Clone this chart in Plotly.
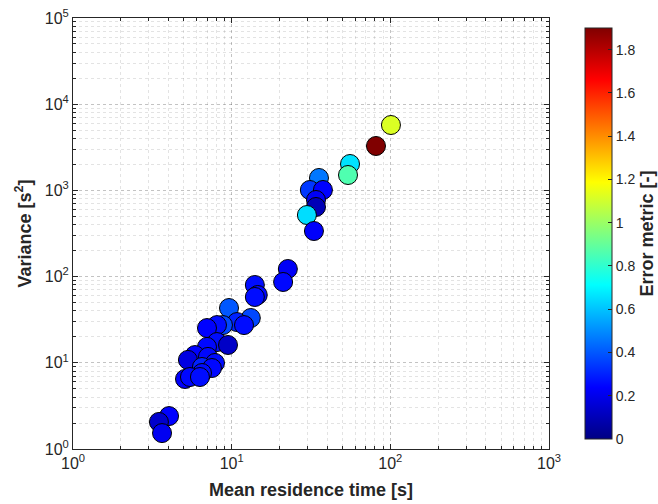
import plotly.graph_objects as go

mean_time = [100.9, 81.2, 55.7, 54.1, 35.5, 31.1, 37.6, 34.0, 34.0, 29.8,
             33.0, 22.6, 21.1, 14.0, 14.6, 14.0, 9.62, 13.2, 10.8, 11.96,
             8.81, 8.08, 6.99, 8.08, 9.48, 6.99, 5.87, 5.30, 7.09, 7.85,
             6.50, 7.51, 6.50, 5.08, 5.46, 6.31, 4.03, 3.48, 3.64]
variance = [5737, 3275, 2025, 1509, 1393, 1011, 1011, 774, 642, 518,
            338, 122.5, 86.6, 79.9, 61.2, 58.0, 43.2, 33.1, 29.7, 27.4,
            27.4, 27.4, 25.3, 17.4, 16.1, 15.3, 12.3, 10.8, 11.7, 9.95,
            8.94, 8.70, 7.61, 6.49, 6.84, 6.84, 2.41, 2.06, 1.53]
error_metric = [1.12, 1.9, 0.66, 0.86, 0.46, 0.34, 0.24, 0.22, 0.10, 0.65,
                0.23, 0.22, 0.25, 0.26, 0.25, 0.26, 0.40, 0.37, 0.30, 0.26,
                0.37, 0.26, 0.24, 0.26, 0.13, 0.25, 0.24, 0.18, 0.25, 0.26,
                0.30, 0.25, 0.26, 0.23, 0.25, 0.26, 0.24, 0.14, 0.21]

x_tickvals = [1, 10, 100, 1000]
x_ticktext = ["10<sup>0</sup>", "10<sup>1</sup>", "10<sup>2</sup>", "10<sup>3</sup>"]
y_tickvals = [1, 10, 100, 1000, 10000, 100000]
y_ticktext = ["10<sup>0</sup>", "10<sup>1</sup>", "10<sup>2</sup>", "10<sup>3</sup>",
              "10<sup>4</sup>", "10<sup>5</sup>"]
cb_tickvals = [0, 0.2, 0.4, 0.6, 0.8, 1.0, 1.2, 1.4, 1.6, 1.8]
cb_ticktext = ["0", "0.2", "0.4", "0.6", "0.8", "1", "1.2", "1.4", "1.6", "1.8"]

jet = [[0.0, "rgb(0,0,131)"], [0.125, "rgb(0,0,255)"], [0.375, "rgb(0,255,255)"],
       [0.625, "rgb(255,255,0)"], [0.875, "rgb(255,0,0)"], [1.0, "rgb(128,0,0)"]]

minor_x = [m * 10 ** k for k in range(0, 3) for m in range(2, 10)]
minor_y = [m * 10 ** k for k in range(0, 5) for m in range(2, 10)]

FONT = "Liberation Sans, Arial"
INK = "#262626"

fig = go.Figure()
fig.add_trace(go.Scatter(
    x=mean_time, y=variance, mode="markers",
    marker=dict(size=19, color=error_metric, colorscale=jet, cmin=0, cmax=1.9,
                line=dict(color="black", width=1), opacity=1,
                colorbar=dict(
                    x=1.054, xanchor="left", xref="paper", y=0.5, yanchor="middle",
                    len=1, lenmode="fraction", thickness=27, thicknessmode="pixels",
                    outlinecolor=INK, outlinewidth=1,
                    tickmode="array", tickvals=cb_tickvals, ticktext=cb_ticktext,
                    ticks="inside", ticklen=4, tickcolor=INK,
                    tickfont=dict(family=FONT, size=14, color=INK),
                    title=dict(text="<b>Error metric [-]</b>", side="right",
                               font=dict(family=FONT, size=18, color=INK)),
                )),
    showlegend=False,
))

axis_common = dict(
    type="log", showline=True, linecolor=INK, linewidth=1, mirror="ticks",
    ticks="inside", ticklen=5, tickcolor=INK,
    showgrid=True, gridcolor="rgba(38,38,38,0.28)", griddash="dot", gridwidth=1,
    tickfont=dict(family=FONT, size=16, color=INK),
    zeroline=False, tickmode="array",
)
minor_common = dict(tickmode="array", ticks="inside", ticklen=3, tickcolor=INK,
                    showgrid=True, gridcolor="rgba(38,38,38,0.13)", griddash="dot")

fig.update_xaxes(**axis_common, range=[0, 3], tickvals=x_tickvals, ticktext=x_ticktext,
                 minor=dict(**minor_common, tickvals=minor_x),
                 title=dict(text="<b>Mean residence time [s]</b>", standoff=12,
                            font=dict(family=FONT, size=18, color=INK)))
fig.update_yaxes(**axis_common, range=[0, 5], tickvals=y_tickvals, ticktext=y_ticktext,
                 minor=dict(**minor_common, tickvals=minor_y),
                 title=dict(text="<b>Variance [s<sup>2</sup>]</b>", standoff=8,
                            font=dict(family=FONT, size=18, color=INK)))

fig.update_layout(
    width=658, height=504,
    margin=dict(l=73, r=109, t=18, b=55, autoexpand=False),
    plot_bgcolor="white", paper_bgcolor="white",
)

fig.write_html("out.html")
